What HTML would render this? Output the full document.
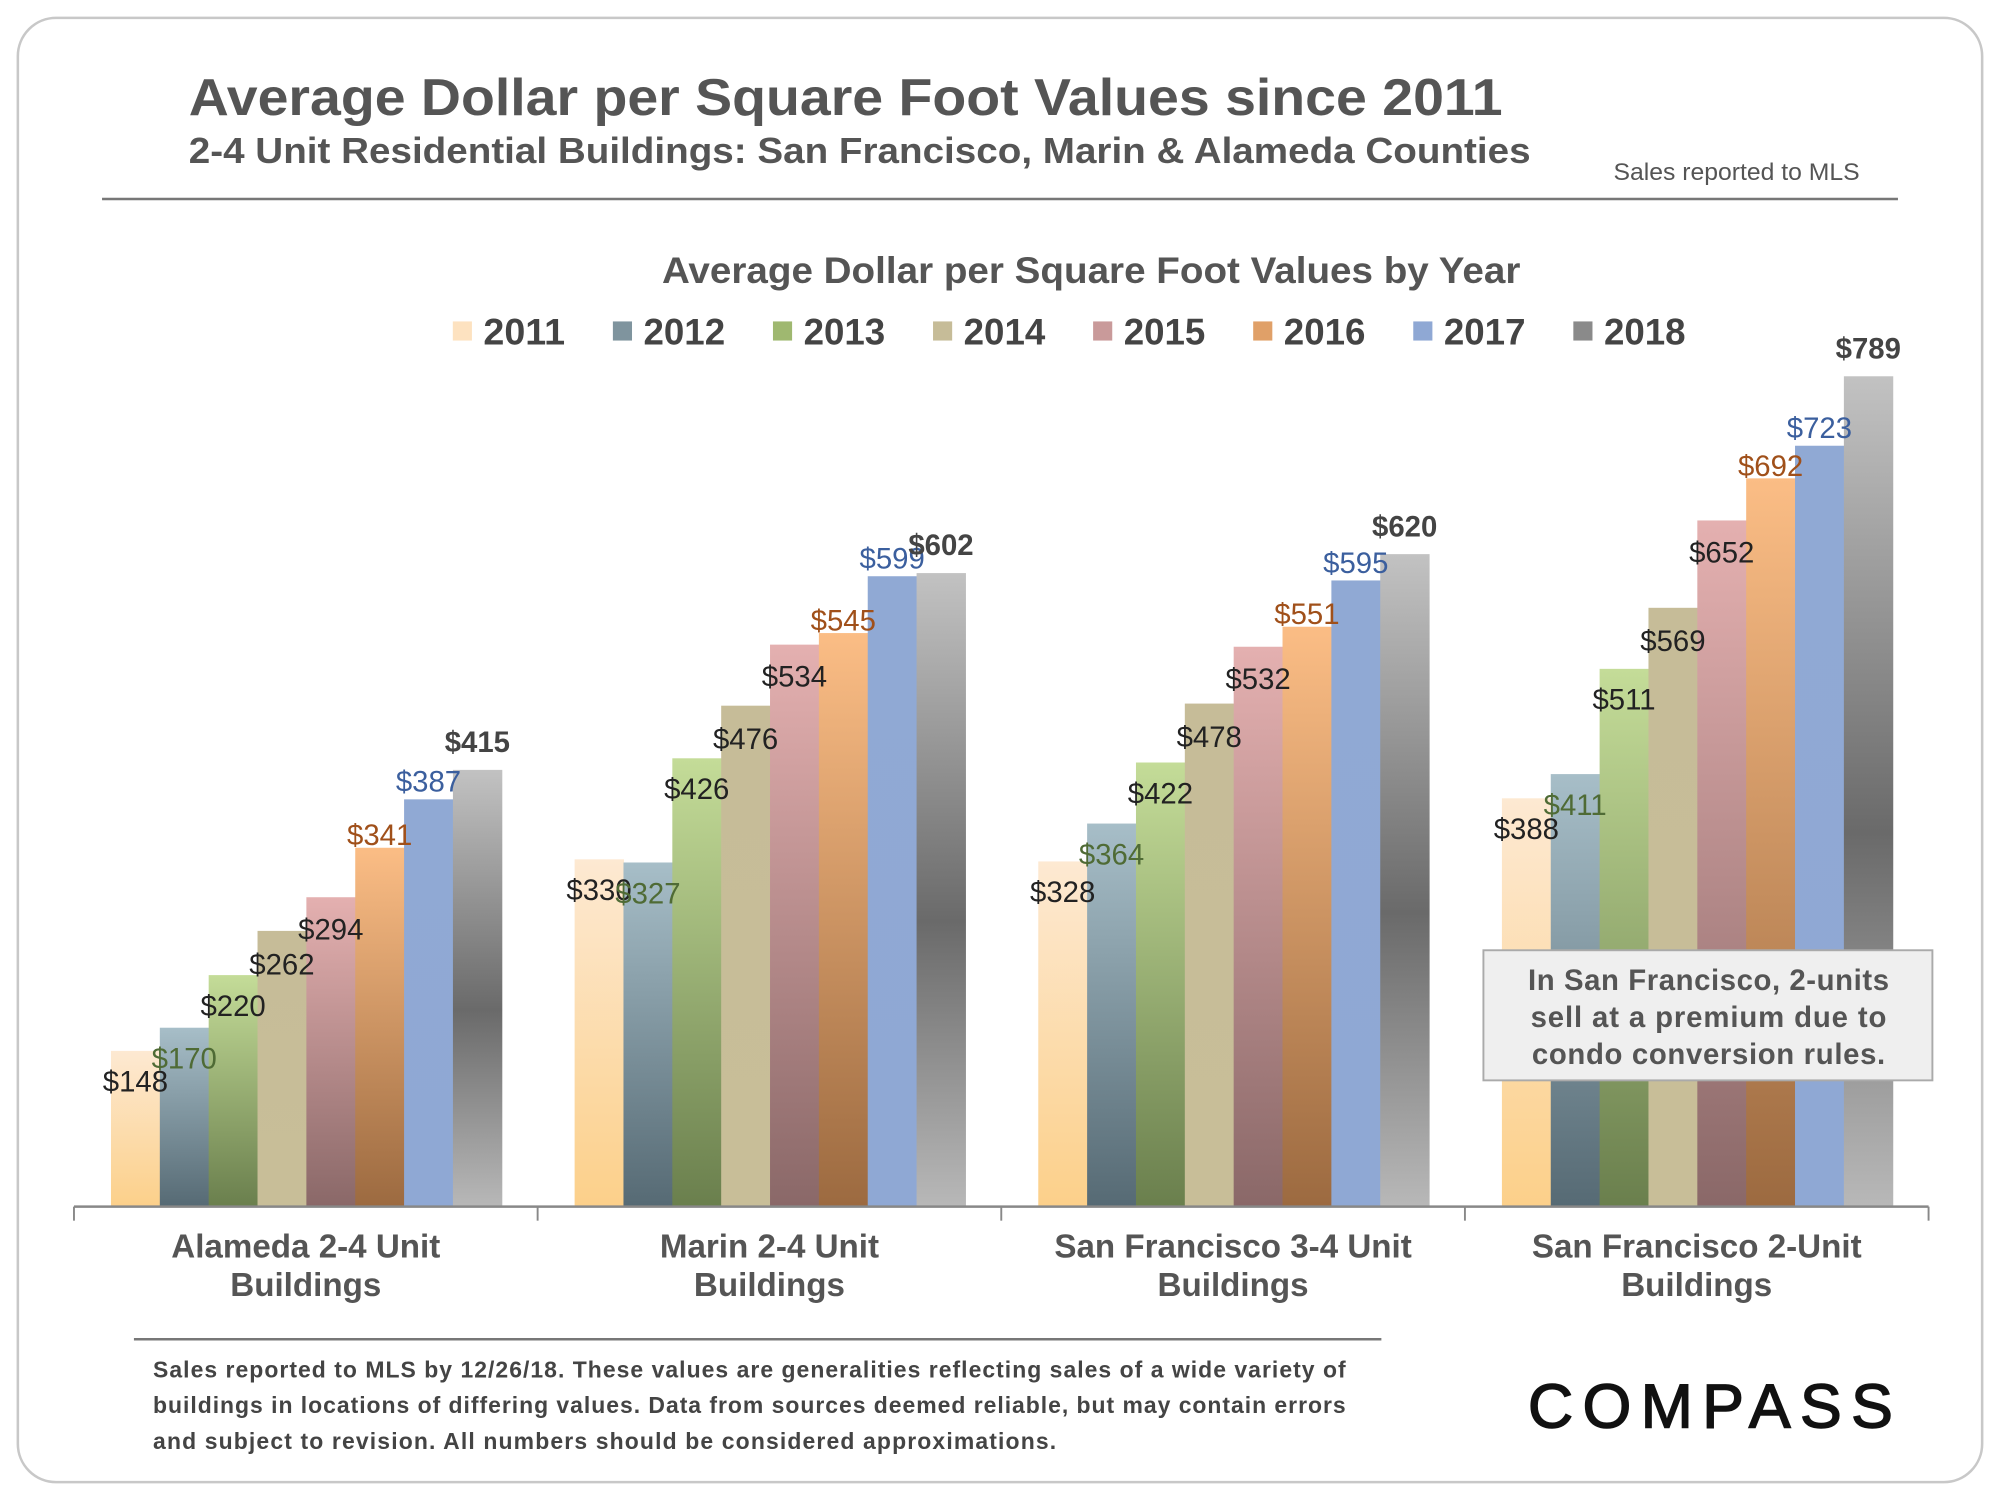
<!DOCTYPE html>
<html><head><meta charset="utf-8"><style>
html,body{margin:0;padding:0;background:#fff;width:2000px;height:1500px;overflow:hidden}
svg{display:block;font-family:"Liberation Sans",Arial,sans-serif}
</style></head><body>
<svg id="chart" width="2000" height="1500" viewBox="0 0 1568 1176" xmlns="http://www.w3.org/2000/svg">
<defs>
<linearGradient id="g0" x1="0" y1="0" x2="0" y2="1"><stop offset="0" stop-color="#fde9d2"/><stop offset="1" stop-color="#fcd08a"/></linearGradient>
<linearGradient id="g1" x1="0" y1="0" x2="0" y2="1"><stop offset="0" stop-color="#a7bec8"/><stop offset="1" stop-color="#566a74"/></linearGradient>
<linearGradient id="g2" x1="0" y1="0" x2="0" y2="1"><stop offset="0" stop-color="#c4dc98"/><stop offset="1" stop-color="#6a7f4d"/></linearGradient>
<linearGradient id="g3" x1="0" y1="0" x2="0" y2="1"><stop offset="0" stop-color="#c6bc98"/><stop offset="1" stop-color="#c8be98"/></linearGradient>
<linearGradient id="g4" x1="0" y1="0" x2="0" y2="1"><stop offset="0" stop-color="#e4b0b0"/><stop offset="1" stop-color="#8a6868"/></linearGradient>
<linearGradient id="g5" x1="0" y1="0" x2="0" y2="1"><stop offset="0" stop-color="#fbbd85"/><stop offset="1" stop-color="#9c6a40"/></linearGradient>
<linearGradient id="g6" x1="0" y1="0" x2="0" y2="1"><stop offset="0" stop-color="#90a9d4"/><stop offset="1" stop-color="#8fa8d4"/></linearGradient>
<linearGradient id="g7" x1="0" y1="0" x2="0" y2="1"><stop offset="0" stop-color="#c2c2c2"/><stop offset="0.55" stop-color="#6a6a6a"/><stop offset="1" stop-color="#b8b8b8"/></linearGradient>
</defs>
<rect x="14" y="14" width="1540" height="1148" rx="30" fill="#fff" stroke="#c8c8c8" stroke-width="2"/>
<text x="148" y="90" font-size="41" font-weight="bold" fill="#555" textLength="1030" lengthAdjust="spacingAndGlyphs">Average Dollar per Square Foot Values since 2011</text>
<text x="148" y="128" font-size="28" font-weight="bold" fill="#555" textLength="1052" lengthAdjust="spacingAndGlyphs">2-4 Unit Residential Buildings: San Francisco, Marin &amp; Alameda Counties</text>
<text x="1265" y="141" font-size="19" fill="#555" textLength="193" lengthAdjust="spacingAndGlyphs">Sales reported to MLS</text>
<line x1="80" y1="156" x2="1488" y2="156" stroke="#777" stroke-width="2"/>
<text x="519" y="222" font-size="29" font-weight="bold" fill="#555" textLength="673" lengthAdjust="spacingAndGlyphs">Average Dollar per Square Foot Values by Year</text>
<g id="legend"></g>
<g id="bars"></g>
<g id="labels"></g>
<g id="axis"></g>
<rect x="1163" y="745" width="352" height="102" fill="#efefef" stroke="#aaa" stroke-width="1.5"/>
<text font-size="23" font-weight="bold" fill="#555" lengthAdjust="spacingAndGlyphs">
<tspan x="1198" y="776" textLength="283">In San Francisco, 2-units</tspan><tspan x="1200" y="805" textLength="279">sell at a  premium due to</tspan><tspan x="1201" y="834" textLength="277">condo conversion rules.</tspan></text>
<line x1="105" y1="1050" x2="1083" y2="1050" stroke="#777" stroke-width="2"/>
<text font-size="18" font-weight="bold" fill="#444" lengthAdjust="spacingAndGlyphs">
<tspan x="120" y="1080" textLength="935">Sales reported to MLS by 12/26/18. These values are generalities reflecting sales of a wide variety of</tspan>
<tspan x="120" y="1108" textLength="935">buildings in locations of differing values. Data from sources deemed reliable, but may contain errors</tspan>
<tspan x="120" y="1136" textLength="708">and subject to revision. All numbers  should be considered approximations.</tspan></text>
<text x="1198" y="1119" font-size="49" fill="#111" stroke="#111" stroke-width="1.2" textLength="286" lengthAdjust="spacing">COMPASS</text>
</svg>
<script>
const categories = [["Alameda 2-4 Unit","Buildings"],["Marin 2-4 Unit","Buildings"],["San Francisco 3-4 Unit","Buildings"],["San Francisco 2-Unit","Buildings"]];
const years = ["2011","2012","2013","2014","2015","2016","2017","2018"];
const v2011 = [148,330,328,388];
const v2012 = [170,327,364,411];
const v2013 = [220,426,422,511];
const v2014 = [262,476,478,569];
const v2015 = [294,534,532,652];
const v2016 = [341,545,551,692];
const v2017 = [387,599,595,723];
const v2018 = [415,602,620,789];
const series = [v2011,v2012,v2013,v2014,v2015,v2016,v2017,v2018];

const NS = "http://www.w3.org/2000/svg";
const x0 = 58, x1 = 1512, baseY = 946, pxPer = 651/789;
const gw = (x1-x0)/categories.length, bw = 38.3, pad = 29;
const yScale = v => baseY - v*pxPer;
const xBar = (c,s) => x0 + c*gw + pad + s*bw;
const labelColors = ["#222","#4f6b35","#222","#222","#222","#a0501a","#3b5f9e","#444"];
const labelOffsets = [24,24,24,26,25,-10,-14,-22];
const swatch = ["#fde2c0","#7f949e","#9fb870","#c6bc98","#c99a9a","#e0a068","#8fa8d4","#8a8a8a"];
function mk(tag, attrs, parent){const e=document.createElementNS(NS,tag);for(const k in attrs)e.setAttribute(k,attrs[k]);parent.appendChild(e);return e;}

const legend = document.getElementById('legend');
years.forEach((y,i)=>{
  const lx = 355 + i*125.5;
  const r = mk('rect',{x:lx,y:252,width:15,height:15,fill:swatch[i]},legend);
  
  
  const t = mk('text',{x:lx+24,y:270,'font-size':29,'font-weight':'bold',fill:'#444',textLength:64,lengthAdjust:'spacingAndGlyphs'},legend);
  t.textContent = y;
  
  
});

const bars = document.getElementById('bars'), labels = document.getElementById('labels');
series.forEach((vals,s)=>{
  vals.forEach((v,c)=>{
    const x = xBar(c,s), top = yScale(v);
    const b = mk('rect',{x:x,y:top,width:bw+0.4,height:baseY-top,fill:'url(#g'+s+')'},bars);
    
    
    const t = mk('text',{x:x+bw/2,y:top+labelOffsets[s]+8,'text-anchor':'middle','font-size':23,fill:labelColors[s]},labels);
    if(s===7) t.setAttribute('font-weight','bold');
    t.textContent = '$'+v;
    
    
  });
});

const axis = document.getElementById('axis');
mk('line',{x1:x0,y1:baseY,x2:x1,y2:baseY,stroke:'#888','stroke-width':2},axis);
for(let c=0;c<=categories.length;c++){
  const tx = x0 + c*gw;
  const tk = mk('line',{x1:tx,y1:baseY,x2:tx,y2:baseY+11,stroke:'#888','stroke-width':1.5},axis);
  
  
}
categories.forEach((lines,c)=>{
  const cx = x0 + c*gw + gw/2;
  const t = mk('text',{'text-anchor':'middle','font-size':26,'font-weight':'bold',fill:'#555'},axis);
  
  
  lines.forEach((ln,i)=>{const sp=mk('tspan',{x:cx,y:986+i*30},t);sp.textContent=ln;});
});
</script>
</body></html>
